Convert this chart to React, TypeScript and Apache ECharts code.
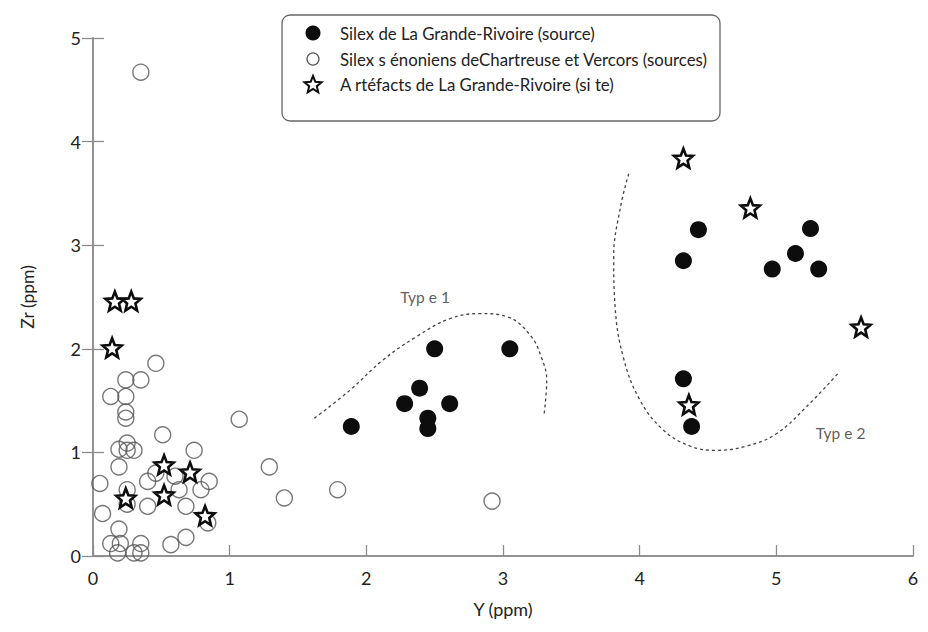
import React, { useEffect, useRef } from "react";
import * as echarts from "echarts";

// Silex de La Grande-Rivoire (source) — filled circles
const grandeRivoire: number[][] = [
  [2.5, 2.0], [3.05, 2.0], [2.39, 1.62], [2.28, 1.47], [2.61, 1.47], [2.45, 1.33], [2.45, 1.23], [1.89, 1.25],
  [4.43, 3.15], [4.32, 2.85], [5.25, 3.16], [5.14, 2.92], [4.97, 2.77], [5.31, 2.77], [4.32, 1.71], [4.38, 1.25],
];

// Silex sénoniens de Chartreuse et Vercors (sources) — open circles
const senoniens: number[][] = [
  [0.35, 4.67],
  [0.46, 1.86], [0.24, 1.7], [0.35, 1.7], [0.13, 1.54], [0.24, 1.54], [0.24, 1.39], [0.24, 1.33],
  [1.07, 1.32], [0.51, 1.17],
  [0.25, 1.09], [0.19, 1.03], [0.3, 1.02], [0.25, 1.02], [0.74, 1.02],
  [0.19, 0.86], [1.29, 0.86],
  [0.46, 0.8], [0.6, 0.77], [0.05, 0.7], [0.4, 0.72], [0.85, 0.72],
  [0.63, 0.64], [0.79, 0.64], [0.25, 0.64], [1.79, 0.64],
  [1.4, 0.56], [2.92, 0.53],
  [0.25, 0.5], [0.4, 0.48], [0.68, 0.48],
  [0.07, 0.41], [0.84, 0.32], [0.19, 0.26], [0.68, 0.18],
  [0.57, 0.11], [0.13, 0.12], [0.2, 0.12], [0.35, 0.12],
  [0.18, 0.03], [0.3, 0.03], [0.35, 0.03],
];

// Artéfacts de La Grande-Rivoire (site) — stars
const artefacts: number[][] = [
  [0.16, 2.46], [0.28, 2.46], [0.14, 2.01], [0.52, 0.88], [0.71, 0.81], [0.52, 0.59], [0.24, 0.56], [0.82, 0.39],
  [4.32, 3.84], [4.81, 3.36], [5.62, 2.21], [4.36, 1.46],
];

// dashed envelopes
const type1Curve: number[][] = [
  [1.62, 1.33], [1.88, 1.6], [2.12, 1.89], [2.37, 2.12], [2.61, 2.29], [2.83, 2.34],
  [3.03, 2.31], [3.2, 2.13], [3.28, 1.92], [3.32, 1.7], [3.3, 1.36],
];
const type2Curve: number[][] = [
  [3.92, 3.69], [3.86, 3.37], [3.81, 2.89], [3.82, 2.41], [3.88, 1.92], [4.0, 1.51], [4.17, 1.22],
  [4.37, 1.06], [4.56, 1.02], [4.78, 1.06], [5.0, 1.18], [5.22, 1.44], [5.45, 1.76],
];

const typeLabels: (number | string)[][] = [
  [2.43, 2.5, "Typ e 1"],
  [5.47, 1.19, "Typ e 2"],
];

const legendNames = [
  "Silex de La Grande-Rivoire (source)",
  "Silex s énoniens deChartreuse et Vercors (sources)",
  "A rtéfacts de La Grande-Rivoire (si te)",
];

const xTicks = [0, 1, 2, 3, 4, 5, 6];
const yTicks = [0, 1, 2, 3, 4, 5];

const STAR =
  "path://M50,0 L62.9,32.2 L97.6,34.5 L70.9,56.8 L79.4,90.5 L50,72 L20.6,90.5 L29.1,56.8 L2.4,34.5 L37.1,32.2 Z";

function starPoints(cx: number, cy: number, R: number, r: number): number[][] {
  const pts: number[][] = [];
  for (let k = 0; k < 10; k++) {
    const a = ((-90 + k * 36) * Math.PI) / 180;
    const rad = k % 2 === 0 ? R : r;
    pts.push([cx + rad * Math.cos(a), cy + rad * Math.sin(a)]);
  }
  return pts;
}

const FONT = "Lato, 'Open Sans', sans-serif";
const TXT = "#222";

export default function App() {
  const ref = useRef<HTMLDivElement>(null);
  useEffect(() => {
    if (!ref.current) return;
    const chart = echarts.init(ref.current, undefined, { renderer: "svg" });
    const axisColor = "#8c8c8c";
    const legendRowY = [33, 59, 84];
    const option: any = {
      animation: false,
      backgroundColor: "#ffffff",
      textStyle: { fontFamily: FONT },
      grid: { left: 93, right: 15, top: 38, bottom: 76 },
      xAxis: [
        {
          type: "value",
          min: xTicks[0],
          max: xTicks[xTicks.length - 1],
          interval: 1,
          name: "Y (ppm)",
          nameLocation: "middle",
          nameGap: 44,
          nameTextStyle: { fontSize: 18, color: TXT, fontFamily: FONT },
          axisLine: { show: true, lineStyle: { color: axisColor, width: 1.5 } },
          axisTick: { show: true, inside: true, length: 11, lineStyle: { color: axisColor, width: 1.3 } },
          axisLabel: { fontSize: 18, color: TXT, margin: 13, fontFamily: FONT },
          splitLine: { show: false },
        },
        {
          type: "value",
          position: "top",
          min: 0,
          max: 6,
          interval: 1,
          axisLine: { show: true, lineStyle: { color: axisColor, width: 1.5 } },
          axisTick: { show: false },
          axisLabel: { show: false },
          splitLine: { show: false },
        },
      ],
      yAxis: [
        {
          type: "value",
          min: yTicks[0],
          max: yTicks[yTicks.length - 1],
          interval: 1,
          name: "Zr (ppm)",
          nameLocation: "middle",
          nameGap: 57,
          nameTextStyle: { fontSize: 17.5, color: TXT, fontFamily: FONT },
          axisLine: { show: true, lineStyle: { color: axisColor, width: 1.5 } },
          axisTick: { show: true, inside: true, length: 11, lineStyle: { color: axisColor, width: 1.3 } },
          axisLabel: { fontSize: 18, color: TXT, margin: 12, fontFamily: FONT },
          splitLine: { show: false },
        },
        {
          type: "value",
          position: "right",
          min: 0,
          max: 5,
          interval: 1,
          axisLine: { show: true, lineStyle: { color: axisColor, width: 1.5 } },
          axisTick: { show: true, inside: true, length: 11, lineStyle: { color: axisColor, width: 1.3 } },
          axisLabel: { show: false },
          splitLine: { show: false },
        },
      ],
      series: [
        {
          type: "line",
          data: type1Curve,
          smooth: 0.4,
          symbol: "none",
          silent: true,
          lineStyle: { color: "#444", width: 1.3, type: [3, 3] },
          z: 1,
        },
        {
          type: "line",
          data: type2Curve,
          smooth: 0.4,
          symbol: "none",
          silent: true,
          lineStyle: { color: "#444", width: 1.3, type: [3, 3] },
          z: 1,
        },
        {
          name: legendNames[1],
          type: "scatter",
          data: senoniens,
          symbol: "circle",
          symbolSize: 16,
          itemStyle: { color: "rgba(255,255,255,0)", borderColor: "#555", borderWidth: 1.4 },
          z: 2,
        },
        {
          name: legendNames[0],
          type: "scatter",
          data: grandeRivoire,
          symbol: "circle",
          symbolSize: 17,
          itemStyle: { color: "#0d0d0d", opacity: 1 },
          z: 3,
        },
        {
          name: legendNames[2],
          type: "scatter",
          data: artefacts,
          symbol: STAR,
          symbolSize: 19,
          itemStyle: { color: "#ffffff", borderColor: "#0d0d0d", borderWidth: 2.6, opacity: 1 },
          z: 4,
        },
        {
          type: "scatter",
          data: typeLabels,
          symbolSize: 1,
          silent: true,
          itemStyle: { color: "rgba(0,0,0,0)" },
          label: {
            show: true,
            position: "inside",
            formatter: (p: any) => p.data[2],
            fontSize: 15.5,
            color: "#333",
            fontFamily: FONT,
          },
          z: 5,
        },
      ],
      graphic: [
        {
          type: "group",
          z: 100,
          children: [
            {
              type: "rect",
              shape: { x: 282, y: 15, width: 438, height: 106, r: 8 },
              style: { fill: "#ffffff", stroke: "#666", lineWidth: 1.3 },
            },
            {
              type: "circle",
              shape: { cx: 313, cy: legendRowY[0], r: 7.5 },
              style: { fill: "#0d0d0d" },
            },
            {
              type: "circle",
              shape: { cx: 313, cy: legendRowY[1], r: 6 },
              style: { fill: "#fff", stroke: "#555", lineWidth: 1.2 },
            },
            {
              type: "polygon",
              shape: { points: starPoints(313, legendRowY[2] + 1, 9, 4) },
              style: { fill: "#fff", stroke: "#0d0d0d", lineWidth: 2 },
            },
            ...legendNames.map((t, i) => ({
              type: "text",
              x: 340,
              y: legendRowY[i],
              style: {
                text: t,
                fontSize: 16.8,
                fontFamily: FONT,
                fill: TXT,
                verticalAlign: "middle",
                align: "left",
              },
            })),
          ],
        },
      ],
    };
    chart.setOption(option);
    return () => chart.dispose();
  }, []);
  return (
    <div
      ref={ref}
      style={{ position: "absolute", left: 0, top: 0, width: 928, height: 632 }}
    />
  );
}
